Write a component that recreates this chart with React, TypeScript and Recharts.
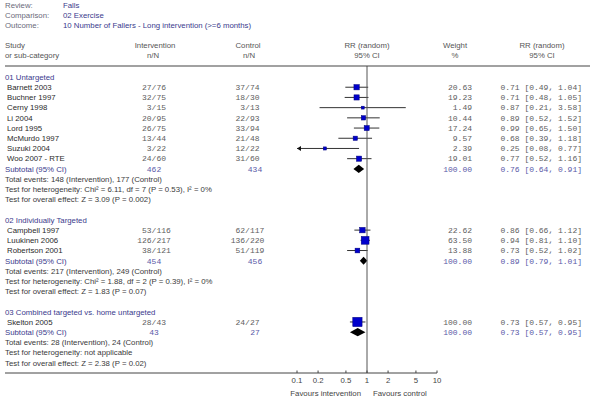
import React from "react";
import { ComposedChart, Scatter, XAxis, YAxis, ReferenceLine, ReferenceArea } from "recharts";

// meta
const reviewName = "Falls";
const comparisonName = "02 Exercise";
const outcomeName = "10 Number of Fallers - Long intervention (>=6 months)";

// groups
const groupTitles = [
  "01 Untargeted",
  "02 Individually Targeted",
  "03 Combined targeted vs. home untargeted"
];
const groupSizes = [8, 3, 1];

// studies
const studyNames = [
  "Barnett 2003",
  "Buchner 1997",
  "Cerny 1998",
  "Li 2004",
  "Lord 1995",
  "McMurdo 1997",
  "Suzuki 2004",
  "Woo 2007 - RTE",
  "Campbell 1997",
  "Luukinen 2006",
  "Robertson 2001",
  "Skelton 2005"
];
const interventionNN = ["27/76", "32/75", "3/15", "20/95", "26/75", "13/44", "3/22", "24/60", "53/116", "126/217", "38/121", "28/43"];
const controlNN = ["37/74", "18/30", "3/13", "22/93", "33/94", "21/48", "12/22", "31/60", "62/117", "136/220", "51/119", "24/27"];
const weights = [20.63, 19.23, 1.49, 10.44, 17.24, 9.57, 2.39, 19.01, 22.62, 63.5, 13.88, 100.0];
const rr = [0.71, 0.71, 0.87, 0.89, 0.99, 0.68, 0.25, 0.77, 0.86, 0.94, 0.73, 0.73];
const ciLow = [0.49, 0.48, 0.21, 0.52, 0.65, 0.39, 0.08, 0.52, 0.66, 0.81, 0.52, 0.57];
const ciHigh = [1.04, 1.05, 3.58, 1.52, 1.5, 1.18, 0.77, 1.16, 1.12, 1.1, 1.02, 0.95];

// subtotals
const subInterventionN = [462, 454, 43];
const subControlN = [434, 456, 27];
const subRR = [0.76, 0.89, 0.73];
const subLow = [0.64, 0.79, 0.57];
const subHigh = [0.91, 1.01, 0.95];
const totalEvents = [
  "Total events: 148 (Intervention), 177 (Control)",
  "Total events: 217 (Intervention), 249 (Control)",
  "Total events: 28 (Intervention), 24 (Control)"
];
const heterogeneity = [
  "Test for heterogeneity: Chi\u00b2 = 6.11, df = 7 (P = 0.53), I\u00b2 = 0%",
  "Test for heterogeneity: Chi\u00b2 = 1.88, df = 2 (P = 0.39), I\u00b2 = 0%",
  "Test for heterogeneity: not applicable"
];
const overallEffect = [
  "Test for overall effect: Z = 3.09 (P = 0.002)",
  "Test for overall effect: Z = 1.83 (P = 0.07)",
  "Test for overall effect: Z = 2.38 (P = 0.02)"
];

const xTicks = [0.1, 0.2, 0.5, 1, 2, 5, 10];
const xDomain = [0.1, 10];

const SANS = "'Liberation Sans', Arial, sans-serif";
const MONO = "'Liberation Mono', 'Courier New', monospace";
const FS = 7.8;
const BLUE_TXT = "#3a3a8c";
const NUM = "#606060";
const SUB_NUM = "#5a5aa8";

type Row =
  | { idx: number; kind: "title"; g: number }
  | { idx: number; kind: "study"; s: number }
  | { idx: number; kind: "subtotal"; g: number }
  | { idx: number; kind: "note"; text: string };

const rows: Row[] = [];
(() => {
  let r = 0;
  let s = 0;
  groupTitles.forEach((_, g) => {
    rows.push({ idx: r++, kind: "title", g });
    for (let k = 0; k < groupSizes[g]; k++) rows.push({ idx: r++, kind: "study", s: s++ });
    rows.push({ idx: r++, kind: "subtotal", g });
    rows.push({ idx: r++, kind: "note", text: totalEvents[g] });
    rows.push({ idx: r++, kind: "note", text: heterogeneity[g] });
    rows.push({ idx: r++, kind: "note", text: overallEffect[g] });
    r++;
  });
})();
const rowMap = new Map(rows.map((r) => [r.idx, r]));
const yTicks = rows.map((r) => r.idx);

const studyPoints = rows
  .filter((r): r is Extract<Row, { kind: "study" }> => r.kind === "study")
  .map((r) => ({ x: rr[r.s], y: r.idx, w: weights[r.s], lo: ciLow[r.s], hi: ciHigh[r.s] }));
const subtotalPoints = rows
  .filter((r): r is Extract<Row, { kind: "subtotal" }> => r.kind === "subtotal")
  .map((r) => ({ x: subRR[r.g], y: r.idx, lo: subLow[r.g], hi: subHigh[r.g] }));

function Frac({ x, y, value, fill }: { x: number; y: number; value: string; fill: string }) {
  const [a, b] = value.split("/");
  return (
    <>
      <text x={x + 2.4} y={y} textAnchor="end" fontFamily={MONO} fontSize={8} fill={fill}>
        {a}/
      </text>
      <text x={x + 2.4} y={y} textAnchor="start" fontFamily={MONO} fontSize={8} fill={fill}>
        {b}
      </text>
    </>
  );
}

const ciText = (v: number, lo: number, hi: number) => `${v.toFixed(2)} [${lo.toFixed(2)}, ${hi.toFixed(2)}]`;

function RowTick(props: any) {
  const { y, payload } = props;
  const row = rowMap.get(Math.round(payload.value));
  if (!row) return null;
  const ty = y + 2.8;
  if (row.kind === "title") {
    return (
      <text x={5} y={ty} fontFamily={SANS} fontSize={FS} fill={BLUE_TXT}>
        {groupTitles[row.g]}
      </text>
    );
  }
  if (row.kind === "note") {
    return (
      <text x={5} y={ty} fontFamily={SANS} fontSize={FS} fill="#3a3a3a">
        {row.text}
      </text>
    );
  }
  if (row.kind === "study") {
    const s = row.s;
    return (
      <g>
        <text x={7} y={ty} fontFamily={SANS} fontSize={FS} fill="#2a2a2a">
          {studyNames[s]}
        </text>
        <Frac x={154} y={ty} value={interventionNN[s]} fill={NUM} />
        <Frac x={247.5} y={ty} value={controlNN[s]} fill={NUM} />
        <text x={472} y={ty} textAnchor="end" fontFamily={MONO} fontSize={8} fill={NUM}>
          {weights[s].toFixed(2)}
        </text>
        <text x={582} y={ty} textAnchor="end" fontFamily={MONO} fontSize={8} fill={NUM}>
          {ciText(rr[s], ciLow[s], ciHigh[s])}
        </text>
      </g>
    );
  }
  const g = row.g;
  return (
    <g>
      <text x={5} y={ty} fontFamily={SANS} fontSize={FS} fill={BLUE_TXT}>
        Subtotal (95% CI)
      </text>
      <text x={154} y={ty} textAnchor="middle" fontFamily={MONO} fontSize={8} fill={SUB_NUM}>
        {subInterventionN[g]}
      </text>
      <text x={255} y={ty} textAnchor="middle" fontFamily={MONO} fontSize={8} fill={SUB_NUM}>
        {subControlN[g]}
      </text>
      <text x={472} y={ty} textAnchor="end" fontFamily={MONO} fontSize={8} fill={SUB_NUM}>
        100.00
      </text>
      <text x={582} y={ty} textAnchor="end" fontFamily={MONO} fontSize={8} fill={SUB_NUM}>
        {ciText(subRR[g], subLow[g], subHigh[g])}
      </text>
    </g>
  );
}

function AxisTick(props: any) {
  const { x, y, payload } = props;
  return (
    <g>
      <line x1={x} x2={x} y1={y - 2.5} y2={y} stroke="#444" strokeWidth={1} />
      <text x={x} y={y + 10} textAnchor="middle" fontFamily={SANS} fontSize={FS} fill="#444">
        {payload.value}
      </text>
    </g>
  );
}

function Square(props: any) {
  const { cx, cy, payload } = props;
  const size = 2 + 0.73 * Math.sqrt(payload.w);
  return (
    <rect
      x={cx - size / 2}
      y={cy - size / 2}
      width={size}
      height={size}
      fill="#0000cc"
      stroke="#00007a"
      strokeWidth={0.5}
    />
  );
}

const ciShape = (clippedLow: boolean) => (props: any) => {
  const { x, y, width, height } = props;
  const cy = y + height / 2;
  return (
    <g>
      <line x1={x} x2={x + width} y1={cy} y2={cy} stroke="#333" strokeWidth={1} />
      {clippedLow ? <polygon points={`${x},${cy} ${x + 4},${cy - 2.5} ${x + 4},${cy + 2.5}`} fill="#111" /> : null}
    </g>
  );
};

const diamondShape = (props: any) => {
  const { x, y, width, height } = props;
  const cy = y + height / 2;
  return (
    <polygon
      points={`${x},${cy} ${x + width / 2},${y} ${x + width},${cy} ${x + width / 2},${y + height}`}
      fill="#000"
    />
  );
};

export default function App() {
  return (
    <div style={{ position: "absolute", left: 0, top: 0, width: 592, height: 400, background: "#fff" }}>
      <ComposedChart width={592} height={400} margin={{ top: 66, right: 155, bottom: 7, left: 0 }}>
        <XAxis
          type="number"
          dataKey="x"
          scale="log"
          domain={xDomain}
          ticks={xTicks}
          allowDataOverflow
          interval={0}
          height={20}
          tickSize={0}
          tickMargin={0}
          tickLine={false}
          axisLine={{ stroke: "#444" }}
          tick={<AxisTick />}
        />
        <YAxis
          type="number"
          dataKey="y"
          domain={[-1.08, 29]}
          reversed
          ticks={yTicks}
          interval={0}
          width={297}
          axisLine={false}
          tickLine={false}
          tick={<RowTick />}
          allowDataOverflow
        />
        <ReferenceLine x={1} stroke="#555" strokeWidth={1} />
        {studyPoints.map((p, i) => (
          <ReferenceArea
            key={`ci-${i}`}
            x1={Math.max(p.lo, xDomain[0])}
            x2={Math.min(p.hi, xDomain[1])}
            y1={p.y - 0.1}
            y2={p.y + 0.1}
            shape={ciShape(p.lo < xDomain[0])}
          />
        ))}
        {subtotalPoints.map((p, i) => (
          <ReferenceArea key={`sub-${i}`} x1={p.lo} x2={p.hi} y1={p.y - 0.4} y2={p.y + 0.4} shape={diamondShape} />
        ))}
        <Scatter data={studyPoints} dataKey="y" shape={<Square />} isAnimationActive={false} />
      </ComposedChart>
      <svg
        width={592}
        height={400}
        style={{ position: "absolute", left: 0, top: 0, pointerEvents: "none" }}
        fontFamily={SANS}
        fontSize={FS}
      >
        <text x={5} y={8} fill="#6a6a7a">Review:</text>
        <text x={63} y={8} fill={BLUE_TXT}>{reviewName}</text>
        <text x={5} y={18} fill="#6a6a7a">Comparison:</text>
        <text x={63} y={18} fill={BLUE_TXT}>{comparisonName}</text>
        <text x={5} y={28} fill="#6a6a7a">Outcome:</text>
        <text x={63} y={28} fill={BLUE_TXT}>{outcomeName}</text>

        <text x={5} y={48} fill="#555">Study</text>
        <text x={5} y={57.5} fill="#555">or sub-category</text>
        <text x={155} y={48} textAnchor="middle" fill="#555">Intervention</text>
        <text x={153} y={57.5} textAnchor="middle" fill="#555">n/N</text>
        <text x={248} y={48} textAnchor="middle" fill="#555">Control</text>
        <text x={249} y={57.5} textAnchor="middle" fill="#555">n/N</text>
        <text x={367} y={48} textAnchor="middle" fill="#555">RR (random)</text>
        <text x={367} y={57.5} textAnchor="middle" fill="#555">95% CI</text>
        <text x={455} y={48} textAnchor="middle" fill="#555">Weight</text>
        <text x={455} y={57.5} textAnchor="middle" fill="#555">%</text>
        <text x={542} y={48} textAnchor="middle" fill="#555">RR (random)</text>
        <text x={542} y={57.5} textAnchor="middle" fill="#555">95% CI</text>

        <line x1={5} x2={590} y1={66} y2={66} stroke="#444" strokeWidth={1.2} />
        <line x1={5} x2={297} y1={373} y2={373} stroke="#444" strokeWidth={1} />

        <text x={361} y={396} textAnchor="end" fill="#444">Favours intervention</text>
        <text x={373} y={396} fill="#444">Favours control</text>
      </svg>
    </div>
  );
}
